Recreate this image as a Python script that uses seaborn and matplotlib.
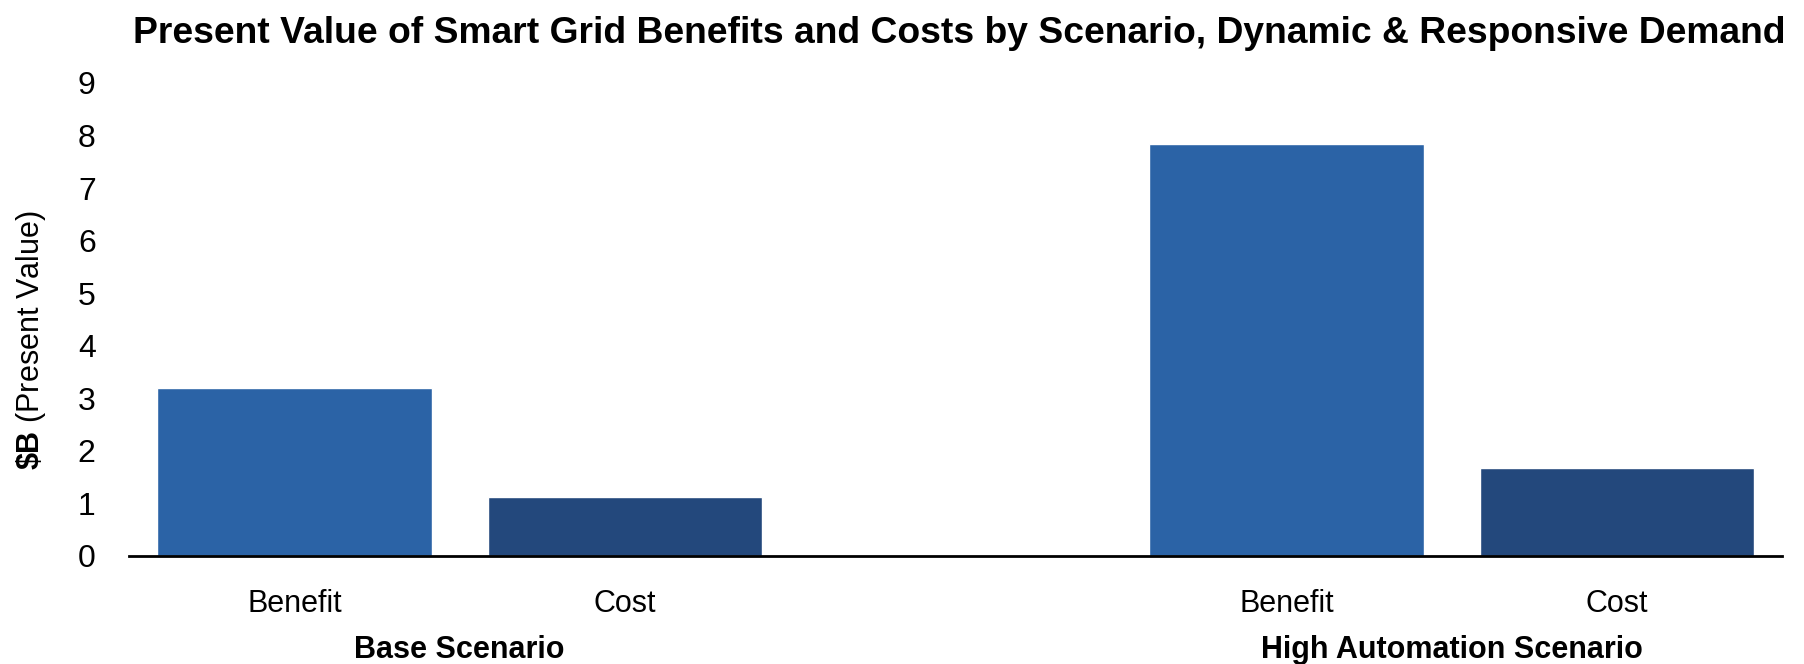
import matplotlib
matplotlib.use("Agg")
import matplotlib.pyplot as plt
import matplotlib.transforms as mtransforms
import seaborn as sns
import pandas as pd

# Chart data
scenarios = ["Base Scenario", "High Automation Scenario"]
items = ["Benefit", "Cost"]
base_values = [3.20, 1.11]
high_auto_values = [7.84, 1.68]
y_ticks = [0, 1, 2, 3, 4, 5, 6, 7, 8, 9]

benefit_color = "#2B63A6"
cost_color = "#23487C"

sns.set_theme(style="white")
plt.rcParams["font.family"] = ["Liberation Sans", "DejaVu Sans"]
plt.rcParams["mathtext.fontset"] = "custom"
plt.rcParams["mathtext.bf"] = "Liberation Sans:bold"
plt.rcParams["mathtext.rm"] = "Liberation Sans"
plt.rcParams["text.color"] = "black"
plt.rcParams["axes.labelcolor"] = "black"
plt.rcParams["xtick.color"] = "black"
plt.rcParams["ytick.color"] = "black"

rows = []
for scen, vals in zip(scenarios, [base_values, high_auto_values]):
    for item, v in zip(items, vals):
        rows.append({"slot": f"{scen}|{item}", "item": item, "value": v,
                     "scenario": scen})
df = pd.DataFrame(rows)

order = [f"{scenarios[0]}|{items[0]}", f"{scenarios[0]}|{items[1]}", "gap",
         f"{scenarios[1]}|{items[0]}", f"{scenarios[1]}|{items[1]}"]

fig = plt.figure(figsize=(18.04, 6.64), dpi=100)
ax = fig.add_axes([0.0715, 0.163, 0.9165, 0.712])

sns.barplot(data=df, x="slot", y="value", hue="item", order=order,
            hue_order=items, palette=[benefit_color, cost_color],
            width=0.83, dodge=False, legend=False, ax=ax, saturation=1)

ax.set_ylim(0, 9)
ax.set_xlim(-0.5, len(order) - 0.5)
ax.set_yticks(y_ticks)
ax.set_yticklabels([str(t) for t in y_ticks], fontsize=23)
ax.tick_params(axis="y", length=0, pad=24)

tick_labels = [s.split("|")[1] if "|" in s else "" for s in order]
ax.set_xticks(range(len(order)))
ax.set_xticklabels(tick_labels, fontsize=22)
ax.tick_params(axis="x", length=0, pad=24)
ax.set_xlabel("")

for side in ["left", "right", "top"]:
    ax.spines[side].set_visible(False)
ax.spines["bottom"].set_color("black")
ax.spines["bottom"].set_linewidth(2)

ax.set_ylabel(r"$\mathbf{\$B}$ (Present Value)", fontsize=22)
ax.yaxis.set_label_coords(-0.049, 0.455)

# Scenario group labels below the category labels
trans = mtransforms.blended_transform_factory(ax.transData, fig.transFigure)
for scen in scenarios:
    idx = [i for i, s in enumerate(order) if s.startswith(scen + "|")]
    xc = sum(idx) / len(idx)
    ax.text(xc, 0.021, scen, transform=trans, ha="center", va="center",
            fontsize=22, fontweight="bold")

fig.text(0.532, 0.949,
         "Present Value of Smart Grid Benefits and Costs by Scenario, Dynamic & Responsive Demand",
         ha="center", va="center", fontsize=26.8, fontweight="bold")

fig.savefig("out.png", dpi=100, facecolor="white")
